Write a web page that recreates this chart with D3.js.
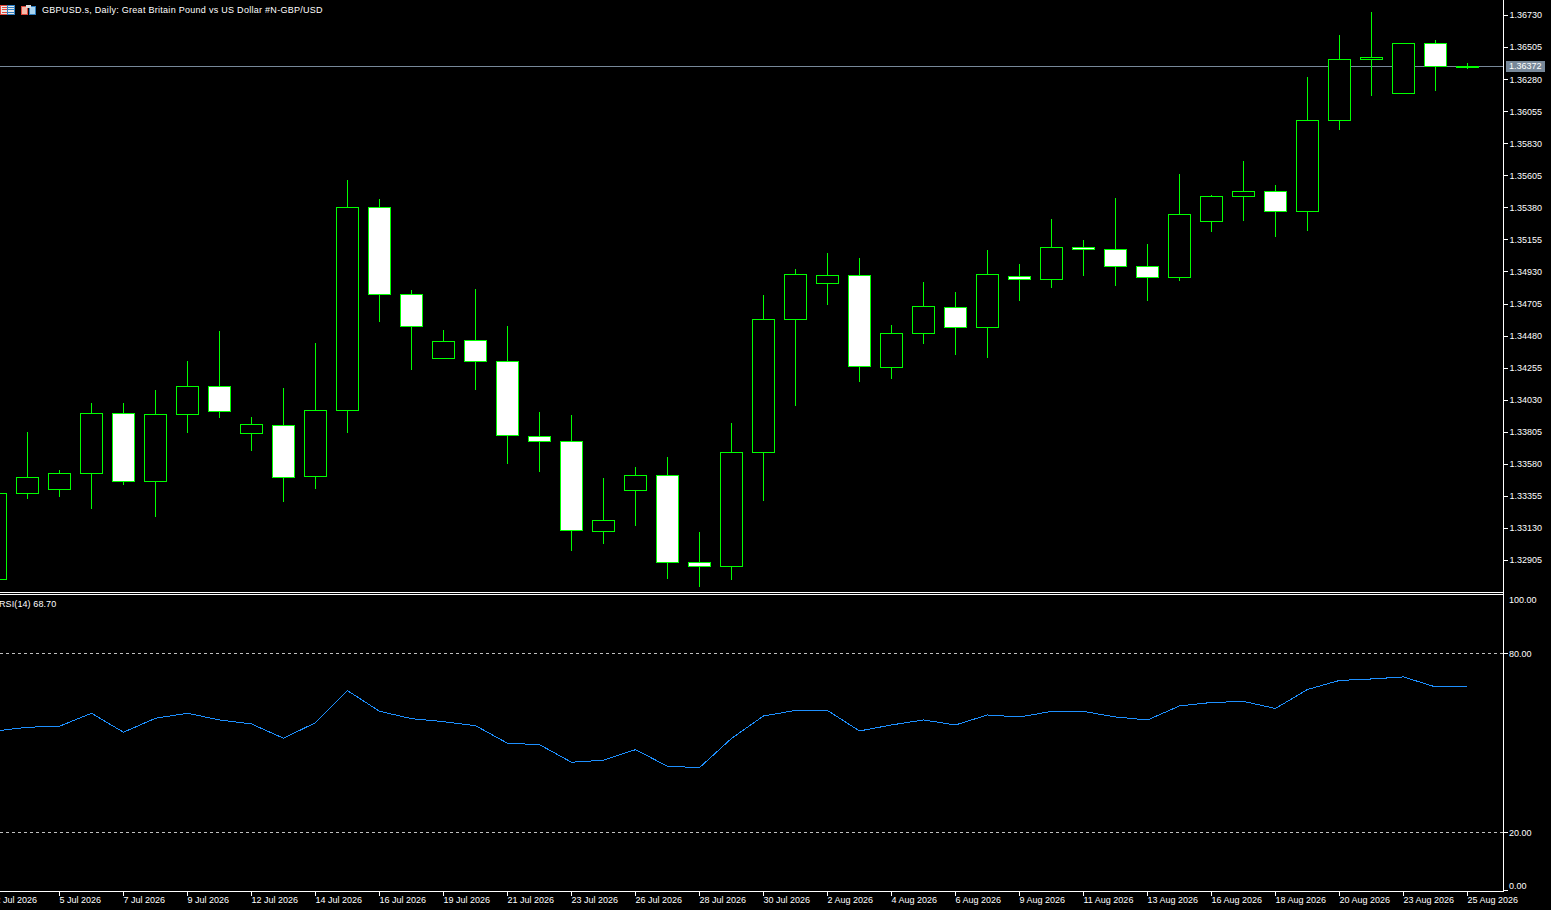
<!DOCTYPE html>
<html>
<head>
<meta charset="utf-8">
<title>GBPUSD.s, Daily</title>
<script src="https://cdn.jsdelivr.net/npm/d3@7"></script>
<style>
  html, body { margin: 0; padding: 0; background: #000; overflow: hidden; }
  svg { display: block; }
  text { font-family: "Liberation Sans", sans-serif; font-size: 9px; fill: #fff; }
  line, rect, path { shape-rendering: crispEdges; }
</style>
</head>
<body>
<div id="chart"></div>
<script>
var dates = ["2 Jul 2026","3 Jul 2026","5 Jul 2026","6 Jul 2026","7 Jul 2026","8 Jul 2026","9 Jul 2026","10 Jul 2026",
  "12 Jul 2026","13 Jul 2026","14 Jul 2026","15 Jul 2026","16 Jul 2026","17 Jul 2026","19 Jul 2026","20 Jul 2026",
  "21 Jul 2026","22 Jul 2026","23 Jul 2026","24 Jul 2026","26 Jul 2026","27 Jul 2026","28 Jul 2026","29 Jul 2026",
  "30 Jul 2026","31 Jul 2026","2 Aug 2026","3 Aug 2026","4 Aug 2026","5 Aug 2026","6 Aug 2026","7 Aug 2026",
  "9 Aug 2026","10 Aug 2026","11 Aug 2026","12 Aug 2026","13 Aug 2026","14 Aug 2026","16 Aug 2026","17 Aug 2026",
  "18 Aug 2026","19 Aug 2026","20 Aug 2026","21 Aug 2026","23 Aug 2026","24 Aug 2026","25 Aug 2026"];

var opens = [1.32772,1.33375,1.33403,1.33516,1.33937,1.33460,1.33930,1.34126,1.33796,1.33853,1.33495,1.33958,
  1.35383,1.34772,1.34323,1.34449,1.34302,1.33775,1.33740,1.33109,1.33396,1.33502,1.32891,1.32863,
  1.33663,1.34597,1.34849,1.34905,1.34260,1.34498,1.34681,1.34540,1.34898,1.34877,1.35102,1.35088,
  1.34968,1.34891,1.35284,1.35460,1.35495,1.35354,1.35993,1.36421,1.36183,1.36533,1.36365];
var highs = [1.33375,1.33803,1.33537,1.34007,1.34007,1.34098,1.34302,1.34512,1.33909,1.34112,1.34428,1.35572,
  1.35439,1.34800,1.34519,1.34807,1.34547,1.33944,1.33923,1.33481,1.33558,1.33628,1.33102,1.33867,
  1.34765,1.34947,1.35060,1.35025,1.34554,1.34856,1.34786,1.35081,1.34983,1.35298,1.35151,1.35446,
  1.35123,1.35614,1.35467,1.35705,1.35537,1.36295,1.36590,1.36751,1.36533,1.36555,1.36393];
var lows = [1.32772,1.33340,1.33354,1.33270,1.33439,1.33214,1.33803,1.33909,1.33677,1.33319,1.33410,1.33803,
  1.34582,1.34246,1.34323,1.34105,1.33586,1.33530,1.32975,1.33024,1.33151,1.32779,1.32723,1.32772,
  1.33326,1.33993,1.34702,1.34161,1.34182,1.34428,1.34351,1.34330,1.34730,1.34821,1.34905,1.34835,
  1.34730,1.34870,1.35214,1.35291,1.35179,1.35221,1.35930,1.36169,1.36183,1.36204,1.36358];
var closes = [1.33375,1.33488,1.33516,1.33937,1.33460,1.33930,1.34126,1.33951,1.33860,1.33488,1.33958,1.35383,
  1.34772,1.34547,1.34442,1.34302,1.33782,1.33740,1.33116,1.33186,1.33502,1.32891,1.32863,1.33663,
  1.34597,1.34912,1.34905,1.34267,1.34498,1.34688,1.34540,1.34912,1.34877,1.35102,1.35088,1.34968,
  1.34891,1.35333,1.35460,1.35495,1.35354,1.35993,1.36421,1.36435,1.36533,1.36372,1.36372];

var rsi = [53.87,55.11,55.45,59.80,53.44,58.13,59.80,57.56,56.22,51.42,56.65,67.38,60.48,57.99,56.99,55.65,
  49.75,49.28,43.38,44.05,47.60,42.04,41.57,51.36,58.90,60.74,60.74,53.87,55.88,57.56,55.88,59.23,
  58.56,60.41,60.41,58.56,57.56,62.25,63.42,63.76,61.41,67.78,70.80,71.30,71.98,68.62,68.70];

var priceTicks = [1.36730,1.36505,1.36280,1.36055,1.35830,1.35605,1.35380,1.35155,1.34930,
  1.34705,1.34480,1.34255,1.34030,1.33805,1.33580,1.33355,1.33130,1.32905];
var rsiLevels = [80, 20];
var rsiLabels = [100, 80, 20, 0];
var lastPrice = 1.36372;
var title = "GBPUSD.s, Daily:  Great Britain Pound vs US Dollar #N-GBP/USD";
var rsiTitle = "RSI(14) 68.70";

var svgWidth = 1551, svgHeight = 910;
var axisX = 1503.5, axisY = 891.5;
var halfBody = 11;

function snap(v) { return Math.floor(v) + 0.5; }

var svg = d3.select("#chart").append("svg")
  .attr("width", svgWidth)
  .attr("height", svgHeight);

var xscale = d3.scalePoint().domain(dates).range([-4.5, 1467.5]);
var yscale = d3.scaleLinear().domain([1.36730, 1.32905]).range([15.5, 560.5]);
var rsiScale = d3.scaleLinear().domain([80, 20]).range([653.5, 832.5]);

// current price line goes under the candles
svg.append("line")
  .attr("x1", 0).attr("x2", axisX)
  .attr("y1", snap(yscale(lastPrice))).attr("y2", snap(yscale(lastPrice)))
  .attr("stroke", "#778899");

var candles = svg.selectAll(".candle")
  .data(dates)
  .enter().append("g")
  .attr("class", "candle");

// wick runs to the outer edge of its end pixels
candles.append("line")
  .attr("x1", d => xscale(d)).attr("x2", d => xscale(d))
  .attr("y1", (d, i) => snap(yscale(highs[i])) - 0.5)
  .attr("y2", (d, i) => snap(yscale(lows[i])) + 0.5)
  .attr("stroke", "#00ff00");

candles.append("rect")
  .attr("x", d => xscale(d) - halfBody)
  .attr("width", halfBody * 2)
  .attr("y", (d, i) => snap(yscale(Math.max(opens[i], closes[i]))))
  .attr("height", (d, i) => snap(yscale(Math.min(opens[i], closes[i]))) - snap(yscale(Math.max(opens[i], closes[i]))))
  .attr("fill", (d, i) => closes[i] >= opens[i] ? "#000" : "#fff")
  .attr("stroke", "#00ff00");

// price axis
var yAxis = d3.axisRight(yscale).tickValues(priceTicks).tickSize(4).tickPadding(2)
  .offset(0).tickFormat(d => d.toFixed(5));
svg.append("g")
  .attr("transform", "translate(" + axisX + ",0)")
  .call(yAxis)
  .call(g => g.select(".domain").remove())
  .call(g => g.selectAll("line").attr("stroke", "#fff"))
  .call(g => g.selectAll("text").attr("fill", "#fff").style("font-family", null).style("font-size", null));

// last price tag
svg.append("rect")
  .attr("x", 1506).attr("y", 61).attr("width", 39).attr("height", 11)
  .attr("fill", "#778899");
svg.append("text")
  .attr("x", 1509).attr("y", snap(yscale(lastPrice)))
  .attr("dy", "0.32em")
  .text(lastPrice.toFixed(5));

// pane borders
svg.append("line").attr("x1", axisX).attr("x2", axisX).attr("y1", 0).attr("y2", axisY).attr("stroke", "#fff");
[592.5, 594.5].forEach(function (y) {
  svg.append("line").attr("x1", 0).attr("x2", axisX).attr("y1", y).attr("y2", y).attr("stroke", "#fff");
});
svg.append("line").attr("x1", 0).attr("x2", axisX).attr("y1", axisY).attr("y2", axisY).attr("stroke", "#fff");

// RSI pane
svg.selectAll(".level")
  .data(rsiLevels)
  .enter().append("line")
  .attr("class", "level")
  .attr("x1", 0).attr("x2", axisX)
  .attr("y1", d => snap(rsiScale(d))).attr("y2", d => snap(rsiScale(d)))
  .attr("stroke", "#c0c0c0")
  .attr("stroke-dasharray", "3,3");

var rsiLine = d3.line().x(d => xscale(d)).y((d, i) => rsiScale(rsi[i]) - 0.5);
svg.append("path")
  .attr("d", rsiLine(dates))
  .attr("fill", "none")
  .attr("stroke", "#1e90ff");

svg.selectAll(".rsi-tick")
  .data(rsiLevels)
  .enter().append("line")
  .attr("class", "rsi-tick")
  .attr("x1", axisX).attr("x2", axisX + 4)
  .attr("y1", d => snap(rsiScale(d))).attr("y2", d => snap(rsiScale(d)))
  .attr("stroke", "#fff");

// 100 and 0 sit inside the pane, the labels get pushed in
svg.selectAll(".rsi-label")
  .data(rsiLabels)
  .enter().append("text")
  .attr("class", "rsi-label")
  .attr("x", 1509)
  .attr("y", d => d === 100 ? 600.5 : d === 0 ? 886.5 : snap(rsiScale(d)) + 0.5)
  .attr("dy", "0.32em")
  .text(d => d.toFixed(2));
svg.append("line").attr("x1", axisX).attr("x2", axisX + 4).attr("y1", 890.5).attr("y2", 890.5).attr("stroke", "#fff");

// time axis, every second bar
var xAxis = d3.axisBottom(xscale)
  .tickValues(dates.filter((d, i) => i % 2 === 0))
  .tickSize(4).tickPadding(2).offset(0);
svg.append("g")
  .attr("transform", "translate(0," + axisY + ")")
  .call(xAxis)
  .call(g => g.select(".domain").remove())
  .call(g => g.selectAll("line").attr("stroke", "#fff"))
  .call(g => g.selectAll("text")
    .attr("fill", "#fff").style("font-family", null).style("font-size", null)
    .attr("text-anchor", "start").attr("x", 0).attr("y", 0).attr("dy", "11.5"));

// header
svg.append("text").attr("x", 42).attr("y", 10.5).attr("dy", "0.32em")
  .style("letter-spacing", "0.28px").text(title);
svg.append("text").attr("x", -1).attr("y", 604).attr("dy", "0.32em")
  .style("letter-spacing", "0.1px").text(rsiTitle);

// small toolbar icons in the corner
var icons = svg.append("g");
icons.append("rect").attr("x", 0.5).attr("y", 5.5).attr("width", 7).attr("height", 9).attr("fill", "#e8e8e8").attr("stroke", "#e0483c");
icons.append("rect").attr("x", 7.5).attr("y", 5.5).attr("width", 7).attr("height", 9).attr("fill", "#e8e8e8").attr("stroke", "#2f7fc1");
[7.5, 9.5, 12.5].forEach(function (y) {
  icons.append("line").attr("x1", 2).attr("x2", 7).attr("y1", y).attr("y2", y).attr("stroke", "#e0483c");
  icons.append("line").attr("x1", 8).attr("x2", 14).attr("y1", y).attr("y2", y).attr("stroke", "#2f7fc1");
});
icons.append("rect").attr("x", 21.5).attr("y", 6.5).attr("width", 6).attr("height", 8).attr("fill", "#f4b8a8").attr("stroke", "#e0483c");
icons.append("rect").attr("x", 29.5).attr("y", 6.5).attr("width", 6).attr("height", 8).attr("fill", "#a8d4f0").attr("stroke", "#2f7fc1");
icons.append("rect").attr("x", 26).attr("y", 5).attr("width", 5).attr("height", 3).attr("fill", "#ddd");
</script>
</body>
</html>
